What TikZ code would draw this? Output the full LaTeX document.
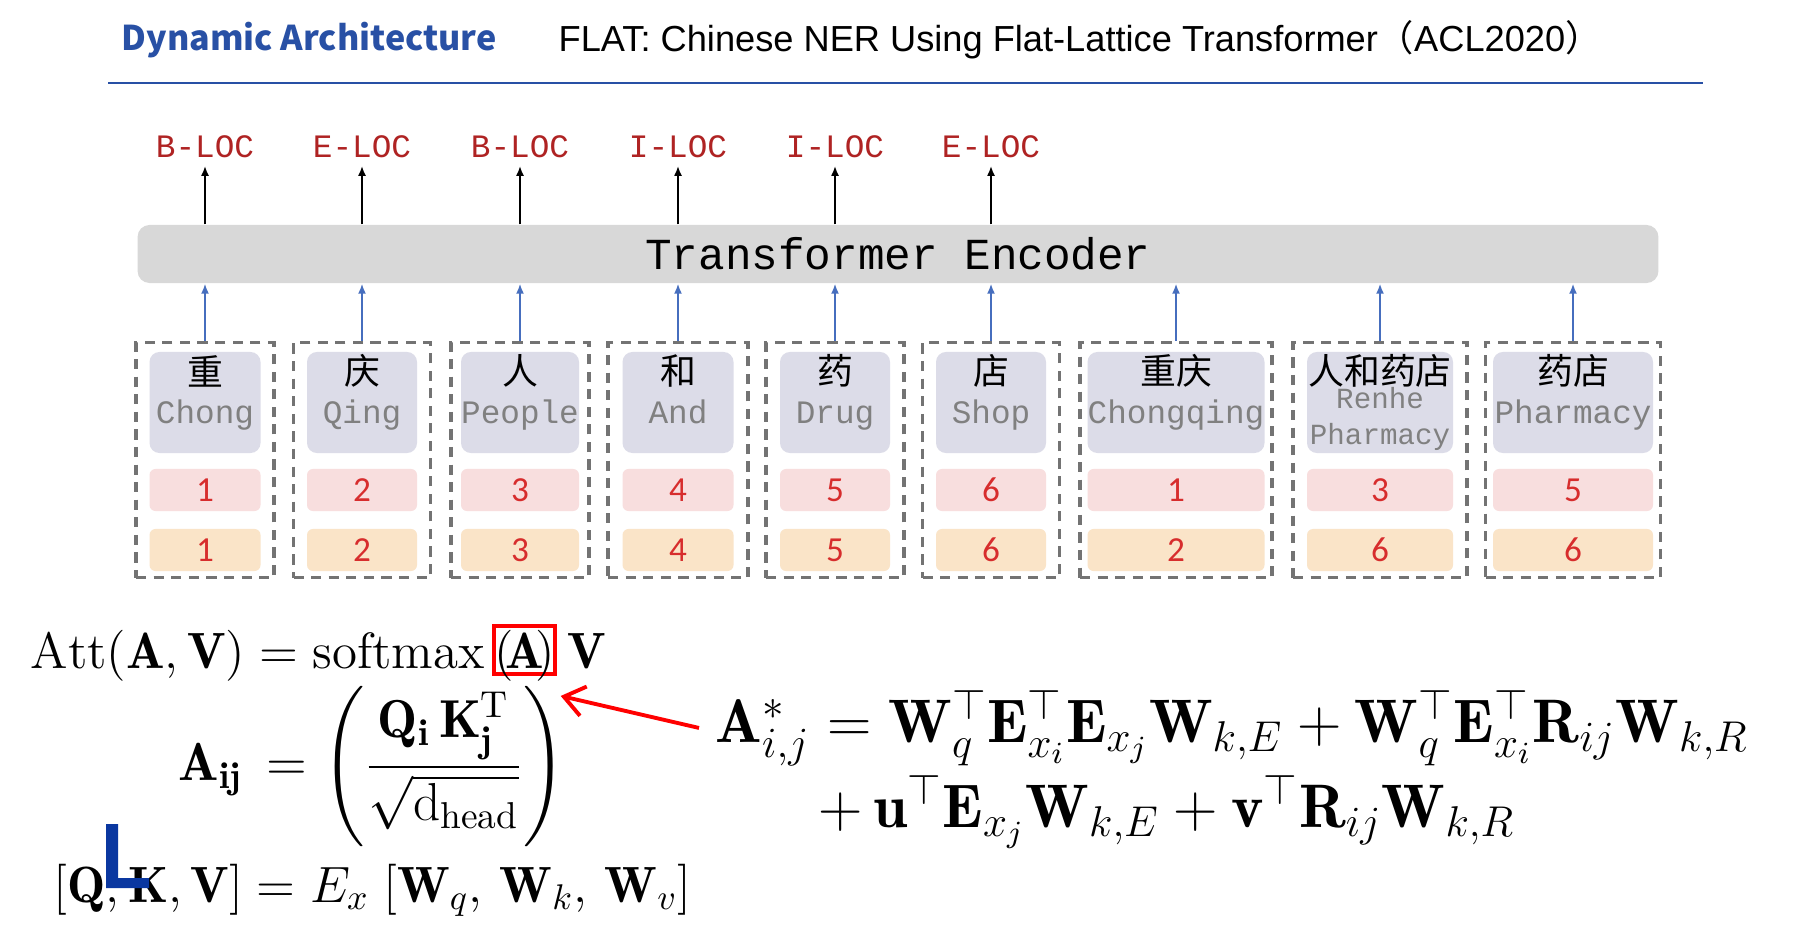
\RequirePackage{fix-cm}
\documentclass[tikz,border=0pt]{standalone}
\usepackage{amsmath}
\usepackage{amssymb}
\usepackage{fontspec}
\newfontfamily\cjk{Noto Sans CJK SC}
\newfontfamily\arial{Liberation Sans}
\newfontfamily\mono{Liberation Mono}
\newfontfamily\calib{Carlito}
\usetikzlibrary{positioning,arrows.meta}
\definecolor{headblue}{RGB}{40,80,165}
\definecolor{tagred}{RGB}{175,35,35}
\definecolor{numred}{RGB}{215,45,45}
\definecolor{wordfill}{RGB}{220,220,232}
\definecolor{posfill}{RGB}{248,222,222}
\definecolor{endfill}{RGB}{250,228,200}
\definecolor{encfill}{RGB}{216,216,216}
\definecolor{feedblue}{RGB}{70,110,190}
\definecolor{markblue}{RGB}{10,55,160}

\begin{document}
\begin{tikzpicture}[x=0.01cm, y=-0.01cm,
        slot/.style={draw=black!55, line width=0.95pt, dash pattern=on 2.9pt off 2.1pt, minimum height=2.35cm, inner sep=0pt, anchor=north},
        wordbox/.style={fill=wordfill, rounded corners=0.1cm, minimum height=1.01cm, inner sep=0pt},
        numbox/.style={rounded corners=0.06cm, minimum height=0.42cm, inner sep=0pt, text=numred, font=\calib\fontsize{10}{11}\selectfont},
        tag/.style={text=tagred, font=\mono\fontsize{9.3}{11}\selectfont, inner sep=2pt},
        encoder/.style={fill=encfill, rounded corners=0.12cm, minimum width=15.2cm, minimum height=0.58cm, font=\mono\fontsize{12.6}{14}\selectfont},
        zh/.style={font=\cjk\fontsize{10.2}{12}\selectfont, inner sep=0pt},
        en/.style={text=black!50, font=\mono\fontsize{9.3}{11}\selectfont, anchor=base, inner sep=0pt},
        feedarrow/.style={-{Latex[length=0.1cm, width=0.08cm]}, feedblue, line width=0.5pt},
        tagarrow/.style={-{Latex[length=0.1cm, width=0.08cm]}, black, line width=0.6pt},
        eq/.style={font=\fontsize{14.5}{17}\selectfont, inner sep=0pt},
        req/.style={font=\fontsize{17.5}{20}\selectfont, inner sep=0pt},
        hint/.style={-{Straight Barb[length=0.2cm, width=0.3cm]}, red, line width=1.1pt}
    ]
    \fill[white] (0,0) rectangle (1804,940);
    \useasboundingbox (0,0) rectangle (1804,940);

    % Header
    \node[anchor=west, inner sep=0pt, text=headblue, font=\cjk\bfseries\fontsize{9.7}{12}\selectfont] (sec) at (121,40) {Dynamic Architecture};
    \node[anchor=west, inner sep=0pt, font=\arial\fontsize{10.3}{12}\selectfont] (title) at (558,40) {FLAT: Chinese NER Using Flat-Lattice Transformer{\cjk （}ACL2020{\cjk ）}};
    \draw[headblue, line width=0.6pt] (108,83) -- (1703,83);

    % Encoder
    \node[encoder] (enc) at (898,254) {Transformer Encoder};

    % Characters and words of the lattice
    \foreach \i/\cx/\ow/\iw/\zi/\word/\pa/\pb in {1/205/138/111/重/Chong/1/1, 2/362/137/110/庆/Qing/2/2, 3/520/138/118/人/People/3/3,
            4/678/140/111/和/And/4/4, 5/835/138/110/药/Drug/5/5, 6/991/137/110/店/Shop/6/6,
            7/1176/192/177/重庆/Chongqing/1/2, 8/1380/174/146/人和药店/{}/3/6, 9/1573/175/160/药店/Pharmacy/5/6} {
        \node[slot, minimum width=\ow*0.01cm] (s\i) at (\cx,341) {};
        \node[wordbox, minimum width=\iw*0.01cm] (w\i) at (\cx,402.5) {};
        \node[numbox, fill=posfill, minimum width=\iw*0.01cm] (p\i) at (\cx,490) {\pa};
        \node[numbox, fill=endfill, minimum width=\iw*0.01cm] (q\i) at (\cx,550) {\pb};
        \node[zh] (z\i) at (\cx,371) {\zi};
        \node[en] (e\i) at (\cx,423) {\word};
        \draw[feedarrow] (s\i.north) -- (s\i.north |- enc.south);
    }
    \node[en, font=\mono\fontsize{8.3}{10}\selectfont] (e8a) at (1380,408) {Renhe};
    \node[en, font=\mono\fontsize{8.3}{10}\selectfont] (e8b) at (1380,444) {Pharmacy};

    % Output tags
    \foreach \i/\lab in {1/B-LOC, 2/E-LOC, 3/B-LOC, 4/I-LOC, 5/I-LOC, 6/E-LOC} {
        \node[tag] (t\i) at (s\i.north |- 0,147) {\lab};
        \draw[tagarrow] (t\i.south |- enc.north) -- (t\i);
    }

    % Attention formulas
    \node[eq, anchor=base west] (att) at (30,668) {$\mathrm{Att}(\mathbf{A},\mathbf{V})=\mathrm{softmax}$};
    \node[eq, anchor=base west, draw=red, line width=1.1pt, text height=0.42cm, text depth=0.06cm] (smA) at ([xshift=0.07cm]att.base east) {$(\!\mathbf{A}\!)$};
    \node[eq, anchor=base west] (smV) at ([xshift=0.1cm]smA.base east) {$\mathbf{V}$};
    \node[eq, anchor=west, font=\fontsize{15.2}{18}\selectfont] (aij) at (178,767) {$\mathbf{A}_{\mathbf{ij}}\,=\Bigg(\dfrac{\mathbf{Q}_{\mathbf{i}}\,\mathbf{K}_{\mathbf{j}}^{\mathrm{T}}}{\sqrt{\mathrm{d}_{\mathrm{head}}}}\Bigg)$};
    \node[eq, anchor=base west] (qkv) at (53,902) {$[\mathbf{Q},\mathbf{K},\mathbf{V}]=E_x\;[\mathbf{W}_q,\,\mathbf{W}_k,\,\mathbf{W}_v]$};

    % Relative position score
    \node[req, anchor=base west] (rel1) at (715,742) {$\mathbf{A}^{*}_{i,j}=\mathbf{W}_q^{\top}\mathbf{E}_{x_i}^{\top}\mathbf{E}_{x_j}\mathbf{W}_{k,E}+\mathbf{W}_q^{\top}\mathbf{E}_{x_i}^{\top}\mathbf{R}_{ij}\mathbf{W}_{k,R}$};
    \node[req, anchor=base west] (rel2) at (818,827) {$+\,\mathbf{u}^{\top}\mathbf{E}_{x_j}\mathbf{W}_{k,E}+\mathbf{v}^{\top}\mathbf{R}_{ij}\mathbf{W}_{k,R}$};
    \draw[hint] ([xshift=-0.16cm]rel1.west) -- ([xshift=0.04cm, yshift=-0.2cm]smA.south east);

    % Mark
    \fill[markblue] (106,824) -- (118,824) -- (118,878) -- (149,878) -- (149,888) -- (106,888) -- cycle;
\end{tikzpicture}
\end{document}
